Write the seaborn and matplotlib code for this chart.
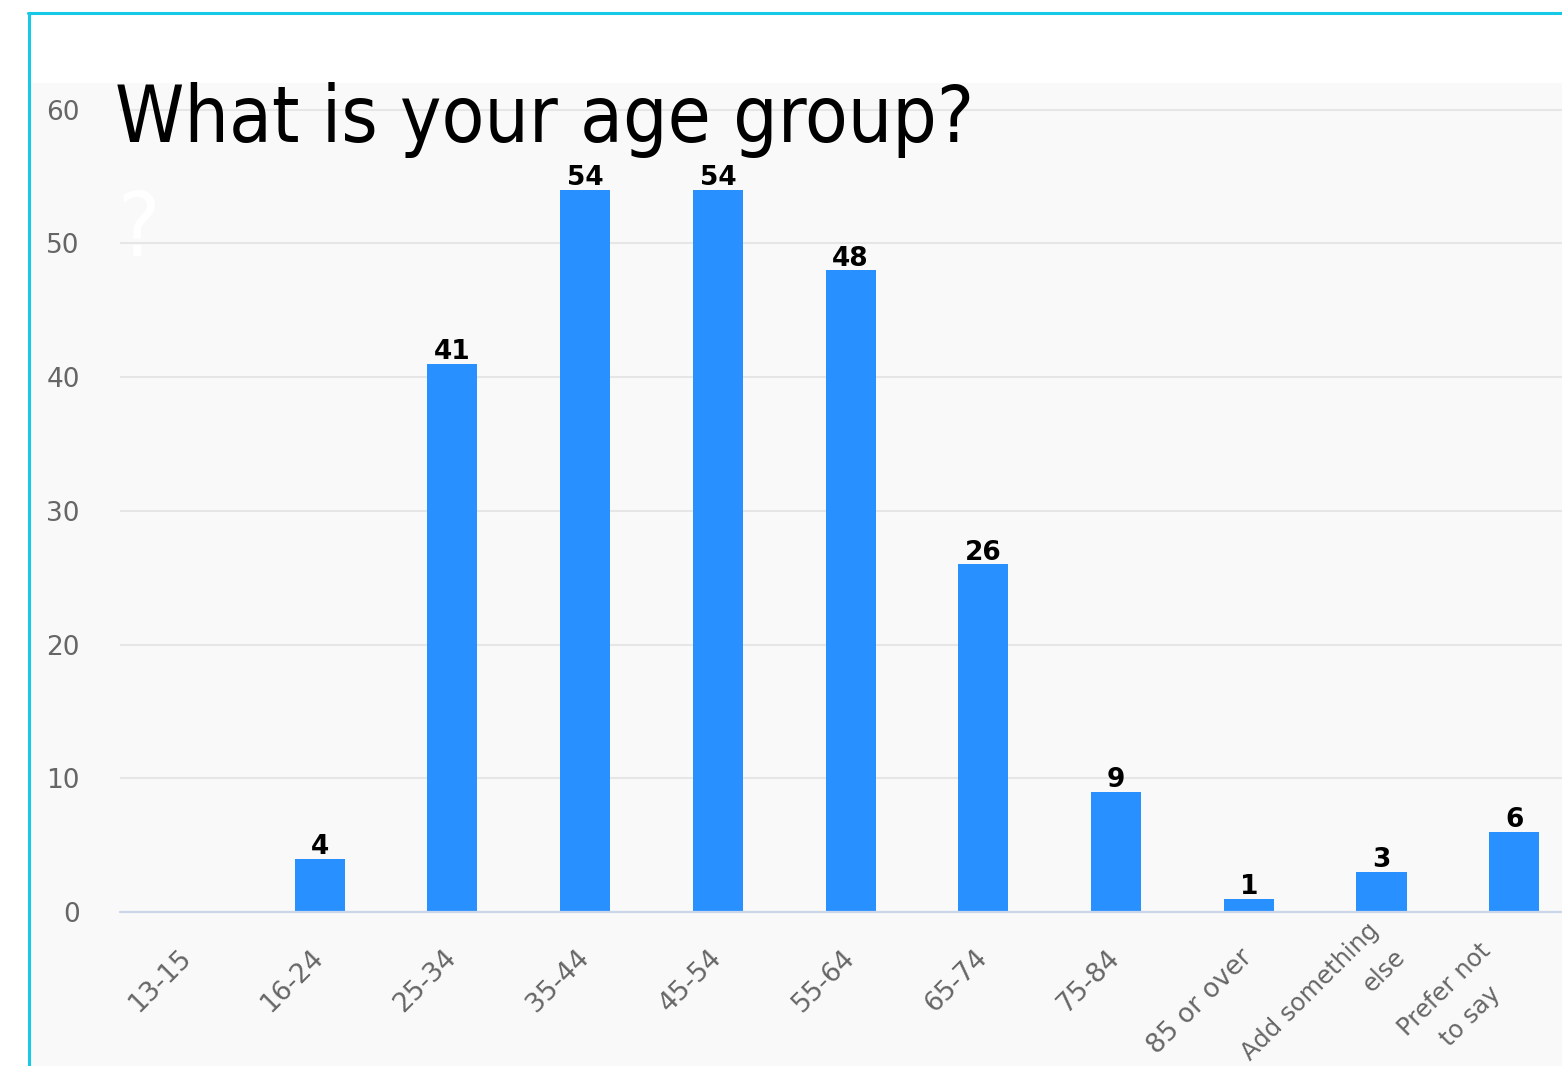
import matplotlib
matplotlib.use("Agg")
import matplotlib.pyplot as plt
import seaborn as sns
from matplotlib import font_manager
from matplotlib.font_manager import FontProperties
from matplotlib.lines import Line2D
from matplotlib.patches import Rectangle
from matplotlib.transforms import ScaledTranslation

# data
categories = ["13-15", "16-24", "25-34", "35-44", "45-54", "55-64", "65-74",
              "75-84", "85 or over", "Add something\nelse", "Prefer not\nto say"]
counts = [0, 4, 41, 54, 54, 48, 26, 9, 1, 3, 6]
yticks = [0, 10, 20, 30, 40, 50, 60]
title = "What is your age group?"

bar_color = "#2891ff"
grid_color = "#e6e6e6"
panel_color = "#f9f9f9"
border_color = "#17c9e6"

sns.set_style("white")
plt.rcParams["font.family"] = ["DejaVu Sans"]

W, H = 1562, 1066
fig = plt.figure(figsize=(W / 100, H / 100), dpi=100)
fig.patch.set_facecolor("white")

# light grey panel behind everything
fig.patches.append(Rectangle((30 / W, 0), 1 - 30 / W, (H - 83) / H,
                             transform=fig.transFigure, facecolor=panel_color,
                             edgecolor="none", zorder=-2))
# cyan frame on top and left
fig.lines.append(Line2D([28 / W, 1], [1 - 13 / H, 1 - 13 / H], transform=fig.transFigure,
                        color=border_color, lw=2.2))
fig.lines.append(Line2D([29 / W, 29 / W], [0, 1 - 13 / H], transform=fig.transFigure,
                        color=border_color, lw=2.2))

ax = fig.add_axes([120 / W, (H - 912) / H, 1 - 120 / W, (912 - 83) / H])
ax.set_facecolor("none")

sns.barplot(x=categories, y=counts, color=bar_color, saturation=1, width=0.377, ax=ax)
for p in ax.patches:
    p.set_edgecolor("none")

ax.set_xlim(-0.505, 10.36)
ax.set_ylim(0, 62)
ax.set_yticks(yticks)
ax.set_axisbelow(True)
ax.yaxis.grid(True, color=grid_color, lw=1.5)
ax.axhline(0, color="#ccd6eb", lw=1.6, clip_on=False, zorder=3)
for s in ax.spines.values():
    s.set_visible(False)

ax.tick_params(axis="y", length=0, pad=29, labelsize=19, labelcolor="#666666")
ax.tick_params(axis="x", length=0, pad=30, labelsize=19, labelcolor="#666666")
ax.set_xticks(range(len(categories)))
ax.set_xticklabels(categories, rotation=45, ha="right", va="center",
                   rotation_mode="anchor", multialignment="center")
ax.set_xlabel("")
ax.set_ylabel("")

# the two-line labels sit a bit higher / further left, like in the reference
shifts = {"Add something\nelse": (-0.15, 0.35, "right"),
          "Prefer not\nto say": (-0.36, 0.15, "center")}
for lab in ax.get_xticklabels():
    if lab.get_text() in shifts:
        dx, dy, ma = shifts[lab.get_text()]
        lab.set_va("top")
        lab.set_multialignment(ma)
        lab.set_linespacing(1.7)
        lab.set_fontsize(17.5)
        lab.set_transform(lab.get_transform() + ScaledTranslation(dx, dy, fig.dpi_scale_trans))

labels = [str(v) if v > 0 else "" for v in counts]
ax.bar_label(ax.containers[0], labels=labels, padding=-1, fontsize=19,
             fontweight="bold", color="black")

# pick the narrowest installed condensed face for the title
tfont = dict(family="DejaVu Sans", stretch="condensed")
for fam, st in [("Noto Sans", "extra-condensed"), ("Noto Sans", "condensed"),
                ("Liberation Sans Narrow", "normal"), ("Roboto", "condensed"),
                ("Open Sans", "condensed")]:
    try:
        path = font_manager.findfont(FontProperties(family=fam, stretch=st),
                                     fallback_to_default=False)
    except Exception:
        continue
    if ("ondensed" in path or "Narrow" in path) and "DejaVu" not in path:
        tfont = dict(family=fam, stretch=st)
        break

t = fig.text(115 / W, 1 - 142 / H, title, fontsize=68, color="black",
             ha="left", va="baseline", **tfont)
# scale the title so it spans the same width as in the reference
fig.canvas.draw()
w = t.get_window_extent().width
t.set_fontsize(68 * 860 / w)

fig.text(117 / W, 1 - 256 / H, "?", fontsize=64, color="white",
         ha="left", va="baseline", **tfont)

plt.savefig("out.png", dpi=100)
